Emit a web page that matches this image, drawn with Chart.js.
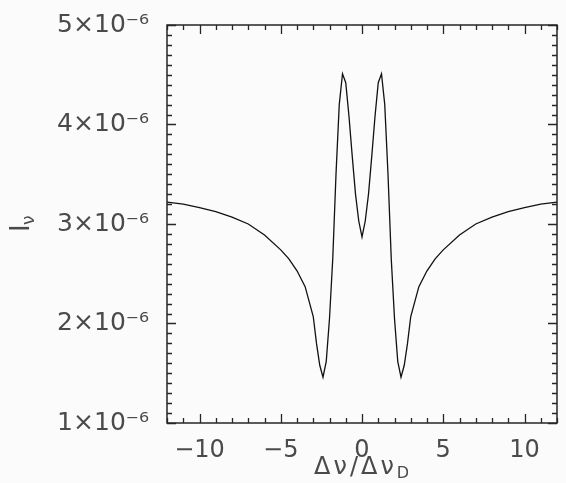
<!DOCTYPE html>
<html>
<head>
<meta charset="utf-8">
<script src="https://cdn.jsdelivr.net/npm/chart.js@4/dist/chart.umd.min.js"></script>
<style>
  html, body { margin: 0; padding: 0; background: #fbfbfb; }
  #wrap { width: 566px; height: 483px; }
</style>
</head>
<body>
<div id="wrap"><canvas id="profile" width="566" height="483"></canvas></div>
<script>
// Line profile I_nu vs detuning (units of 1e-6)
const detuning = [
    -12, -11, -10, -9, -8, -7, -6, -5, -4.5, -4, -3.5, -3.2, -3.0, -2.8, -2.6, -2.4,
    -2.2, -2.0, -1.8, -1.6, -1.4, -1.2, -1.0, -0.8, -0.6, -0.4, -0.2, 0,
    0.2, 0.4, 0.6, 0.8, 1.0, 1.2, 1.4, 1.6, 1.8, 2.0, 2.2,
    2.4, 2.6, 2.8, 3.0, 3.2, 3.5, 4, 4.5, 5, 6, 7, 8, 9, 10, 11, 12
];
const intensity = [
    3.22, 3.20, 3.165, 3.125, 3.07, 3.00, 2.89, 2.74, 2.65, 2.53, 2.37, 2.19, 2.07, 1.80, 1.58, 1.46,
    1.62, 2.05, 2.65, 3.50, 4.20, 4.51, 4.42, 4.08, 3.68, 3.30, 3.03, 2.87,
    3.03, 3.30, 3.68, 4.08, 4.42, 4.51, 4.20, 3.50, 2.65, 2.05, 1.62,
    1.46, 1.58, 1.80, 2.07, 2.19, 2.37, 2.53, 2.65, 2.74, 2.89, 3.00, 3.07, 3.125, 3.165, 3.20, 3.22
];
const xTicks = [-10, -5, 0, 5, 10];
const yTicks = [1, 2, 3, 4, 5];          // x 1e-6
const xMinorStep = 1;
const yMinorStep = 0.1;

const FONT = '"DejaVu Sans", "Liberation Sans", sans-serif';
const INK = '#262626';
const TEXT = '#4a4a4a';

// frame + inward ticks on all four sides, axis titles with subscripts
const framePlugin = {
    id: 'frame',
    afterDraw(chart) {
        const { ctx, chartArea: a, scales: { x, y } } = chart;
        ctx.save();
        ctx.strokeStyle = INK;
        ctx.lineWidth = 1.5;
        ctx.strokeRect(a.left, a.top, a.right - a.left, a.bottom - a.top);

        ctx.lineWidth = 1.3;
        ctx.beginPath();
        for (let v = x.min; v <= x.max + 1e-9; v += xMinorStep) {
            const px = Math.round(x.getPixelForValue(v)) + 0.5;
            const len = xTicks.includes(Math.round(v)) ? 9 : 5;
            ctx.moveTo(px, a.bottom); ctx.lineTo(px, a.bottom - len);
            ctx.moveTo(px, a.top); ctx.lineTo(px, a.top + len);
        }
        for (let v = 1; v <= 5 + 1e-9; v += yMinorStep) {
            const py = Math.round(y.getPixelForValue(v * 1e-6)) + 0.5;
            const major = Math.abs(v - Math.round(v)) < 1e-6;
            const len = major ? 9 : 5;
            ctx.moveTo(a.left, py); ctx.lineTo(a.left + len, py);
            ctx.moveTo(a.right, py); ctx.lineTo(a.right - len, py);
        }
        ctx.stroke();

        // x title: Δν/Δν_D
        ctx.fillStyle = TEXT;
        ctx.textBaseline = 'alphabetic';
        const main = 'Δν/Δν';
        ctx.font = '24px ' + FONT;
        ctx.letterSpacing = '3px';
        const w1 = ctx.measureText(main).width;
        ctx.font = '17px ' + FONT;
        ctx.letterSpacing = '0px';
        const w2 = ctx.measureText('D').width;
        const cx = (a.left + a.right) / 2;
        const sx = cx - (w1 + w2) / 2;
        ctx.font = '24px ' + FONT;
        ctx.letterSpacing = '3px';
        ctx.fillText(main, sx, 474);
        ctx.letterSpacing = '0px';
        ctx.font = '16px ' + FONT;
        ctx.fillText('D', sx + w1, 478);

        // y title: I_ν
        ctx.translate(29, (a.top + a.bottom) / 2);
        ctx.rotate(-Math.PI / 2);
        ctx.font = '26px ' + FONT;
        ctx.fillText('I', -8, 0);
        ctx.font = '17px ' + FONT;
        ctx.fillText('ν', -1, 5);
        ctx.restore();
    }
};

new Chart(document.getElementById('profile'), {
    type: 'line',
    data: {
        datasets: [{
            data: detuning.map((d, i) => ({ x: d, y: intensity[i] * 1e-6 })),
            borderColor: '#111',
            borderWidth: 1.3,
            pointRadius: 0,
            tension: 0,
            fill: false
        }]
    },
    options: {
        responsive: false,
        animation: false,
        layout: { padding: { top: 25, right: 9, left: 0, bottom: 0 } },
        plugins: { legend: { display: false }, tooltip: { enabled: false } },
        scales: {
            x: {
                type: 'linear',
                min: -12,
                max: 12,
                afterBuildTicks: s => { s.ticks = xTicks.map(v => ({ value: v })); },
                afterFit: s => { s.height = 60; },
                grid: { display: false },
                border: { display: false },
                ticks: {
                    padding: 5,
                    color: TEXT,
                    font: { family: FONT, size: 24 },
                    maxRotation: 0,
                    callback: v => (v < 0 ? '\u2212' + Math.abs(v) : String(v))
                }
            },
            y: {
                type: 'linear',
                min: 1e-6,
                max: 5e-6,
                afterBuildTicks: s => { s.ticks = yTicks.map(v => ({ value: v * 1e-6 })); },
                afterFit: s => { s.width = 167; },
                grid: { display: false },
                border: { display: false },
                ticks: {
                    padding: 10,
                    color: TEXT,
                    font: { family: FONT, size: 25 },
                    callback: v => Math.round(v * 1e6) + '×10⁻⁶'
                }
            }
        }
    },
    plugins: [framePlugin]
});
</script>
</body>
</html>
